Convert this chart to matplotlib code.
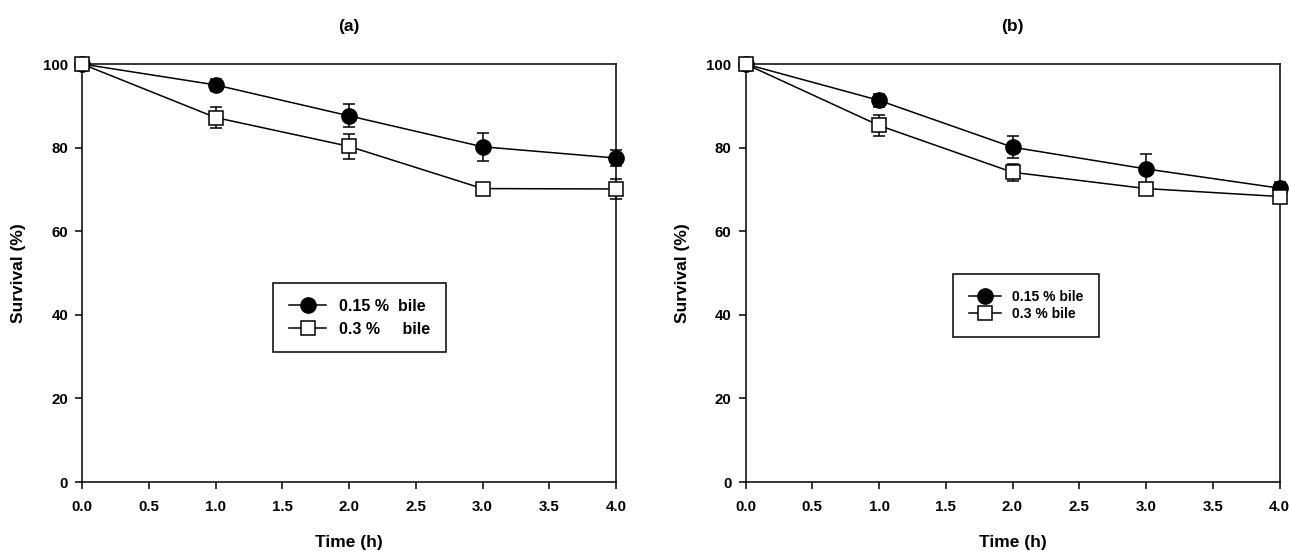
import matplotlib
matplotlib.use("Agg")
import matplotlib.pyplot as plt
from matplotlib.ticker import FormatStrFormatter
from matplotlib.lines import Line2D

plt.rcParams['font.family'] = ['Liberation Sans', 'DejaVu Sans']
plt.rcParams['font.weight'] = 'bold'

time_h = [0.0, 1.0, 2.0, 3.0, 4.0]

# Panel (a)
a_bile015 = [100.0, 95.0, 87.6, 80.2, 77.5]
a_bile015_err = [1.0, 1.5, 2.75, 3.35, 2.0]
a_bile03 = [100.0, 87.2, 80.3, 70.2, 70.1]
a_bile03_err = [0.8, 2.6, 3.0, 1.0, 2.5]

# Panel (b)
b_bile015 = [100.0, 91.3, 80.1, 74.9, 70.3]
b_bile015_err = [1.0, 1.5, 2.6, 3.5, 1.5]
b_bile03 = [100.0, 85.3, 74.1, 70.2, 68.3]
b_bile03_err = [0.8, 2.5, 2.0, 1.0, 1.0]

titles = ["(a)", "(b)"]
legend_labels_a = ["0.15 %  bile", "0.3 %     bile"]
legend_labels_b = ["0.15 % bile", "0.3 % bile"]
x_ticks = [0.0, 0.5, 1.0, 1.5, 2.0, 2.5, 3.0, 3.5, 4.0]
y_ticks = [0, 20, 40, 60, 80, 100]

W, H = 1289, 552
fig = plt.figure(figsize=(W / 100, H / 100), dpi=100)

ax_a = fig.add_axes([82 / W, (552 - 482) / H, 534 / W, 418 / H])
ax_b = fig.add_axes([745.5 / W, (552 - 482) / H, 534 / W, 418 / H])

lw = 1.1


def draw(ax, y1, e1, y2, e2, title, labels, leg_center, leg_fs, leg_spacing, leg_pad):
    ax.errorbar(time_h, y1, yerr=e1, fmt='none', ecolor='black', elinewidth=lw,
                capsize=4.4, capthick=lw, zorder=2, clip_on=False)
    ax.errorbar(time_h, y2, yerr=e2, fmt='none', ecolor='black', elinewidth=lw,
                capsize=4.4, capthick=lw, zorder=2, clip_on=False)
    ax.plot(time_h, y1, color='black', lw=lw, marker='o', markersize=11,
            markerfacecolor='black', markeredgecolor='black', zorder=3, clip_on=False)
    ax.plot(time_h, y2, color='black', lw=lw, marker='s', markersize=9.4,
            markerfacecolor='white', markeredgecolor='black', markeredgewidth=1.1,
            zorder=4, clip_on=False)
    ax.set_xlim(0, 4)
    ax.set_ylim(0, 100)
    ax.set_xticks(x_ticks)
    ax.set_yticks(y_ticks)
    ax.xaxis.set_major_formatter(FormatStrFormatter('%.1f'))
    ax.tick_params(direction='out', length=5, width=lw, labelsize=10.8)
    ax.tick_params(axis='x', pad=8)
    ax.tick_params(axis='y', pad=5)
    for s in ax.spines.values():
        s.set_linewidth(lw)
    ax.set_xlabel("Time (h)", fontsize=12.5, fontweight='bold', labelpad=15)
    ax.set_ylabel("Survival (%)", fontsize=12.5, fontweight='bold', labelpad=12)
    ax.set_title(title, fontsize=12.5, fontweight='bold', pad=24)
    handles = [
        Line2D([], [], color='black', lw=lw, marker='o', markersize=11,
               markerfacecolor='black', markeredgecolor='black'),
        Line2D([], [], color='black', lw=lw, marker='s', markersize=9.4,
               markerfacecolor='white', markeredgecolor='black', markeredgewidth=1.1),
    ]
    leg = ax.legend(handles, labels, loc='center', bbox_to_anchor=leg_center,
                    frameon=True, fancybox=False, shadow=False,
                    edgecolor='black', framealpha=1, handlelength=2.3,
                    handletextpad=0.8, borderpad=leg_pad, labelspacing=leg_spacing,
                    prop={'weight': 'bold', 'size': leg_fs})
    leg.get_frame().set_linewidth(lw)


draw(ax_a, a_bile015, a_bile015_err, a_bile03, a_bile03_err, titles[0],
     legend_labels_a, (0.5197, 0.3935), 11.5, 0.5, 1.0)
draw(ax_b, b_bile015, b_bile015_err, b_bile03, b_bile03_err, titles[1],
     legend_labels_b, (0.525, 0.4227), 10, 0.2, 1.15)

fig.savefig("out.png", dpi=100)
